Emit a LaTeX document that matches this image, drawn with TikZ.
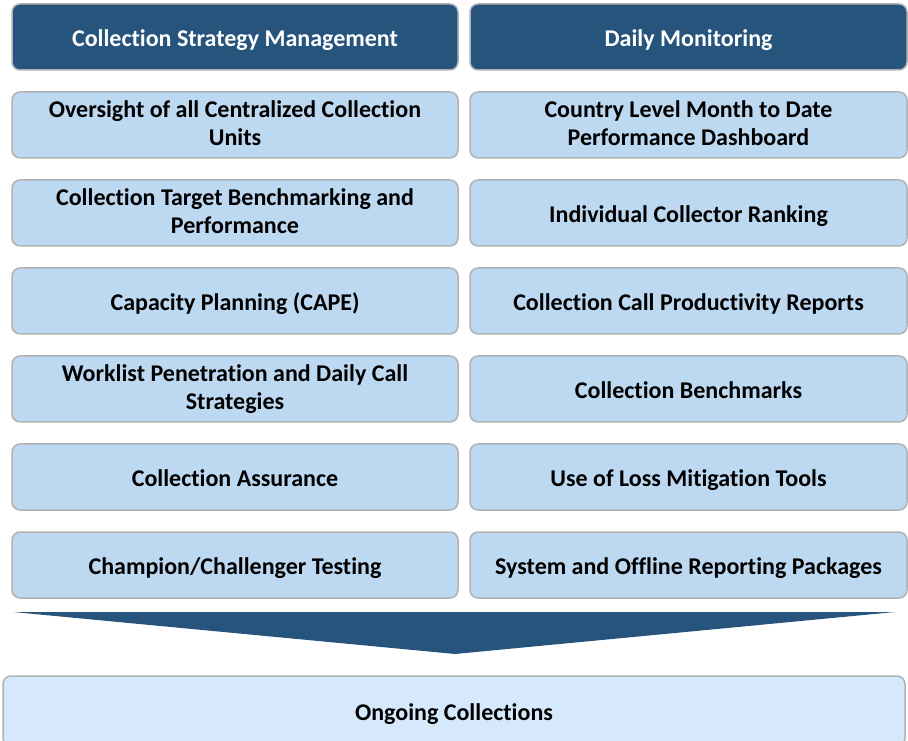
\documentclass[tikz,border=0pt]{standalone}
\usepackage{fontspec}
\setmainfont{Carlito}[Ligatures=NoCommon]
\usetikzlibrary{positioning}
\definecolor{hdblue}{RGB}{38,84,124}
\definecolor{itemblue}{RGB}{189,216,241}
\definecolor{baseblue}{RGB}{214,232,252}
\definecolor{edgegray}{RGB}{178,178,178}
\newcommand{\boxstrut}{\rule[-4.4pt]{0pt}{28pt}}

\begin{document}
\begin{tikzpicture}[x=1pt, y=1pt, node distance={88pt}, font=\fontsize{24}{28}\selectfont\bfseries,
    box/.style = {draw=edgegray, line width=1.5pt, rounded corners=8pt, align=center, inner sep=0pt,
        execute at begin node=\boxstrut, execute at end node=\boxstrut},
    head/.style = {box, fill=hdblue, text=white, minimum height=66pt},
    lft/.style = {box, fill=itemblue, minimum width=446pt, minimum height=66pt},
    rgt/.style = {box, fill=itemblue, minimum width=437pt, minimum height=66pt}]
            \useasboundingbox (0,0) rectangle (908,740);
            \clip (0,0) rectangle (908,740);

            \node[head, minimum width=446pt] (0l) at (235,703) {Collection Strategy Management};
            \node[head, minimum width=437pt] (0r) at (688.5,703) {Daily Monitoring};

            \node[lft] (1l) [below of=0l] {Oversight of all Centralized Collection\\Units};
            \node[lft] (2l) [below of=1l] {Collection Target Benchmarking and\\Performance};
            \node[lft] (3l) [below of=2l] {Capacity Planning (CAPE)};
            \node[lft] (4l) [below of=3l] {Worklist Penetration and Daily Call\\Strategies};
            \node[lft] (5l) [below of=4l] {Collection Assurance};
            \node[lft] (6l) [below of=5l] {Champion/Challenger Testing};

            \node[rgt] (1r) [below of=0r] {Country Level Month to Date\\Performance Dashboard};
            \node[rgt] (2r) [below of=1r] {Individual Collector Ranking};
            \node[rgt] (3r) [below of=2r] {Collection Call Productivity Reports};
            \node[rgt] (4r) [below of=3r] {Collection Benchmarks};
            \node[rgt] (5r) [below of=4r] {Use of Loss Mitigation Tools};
            \node[rgt] (6r) [below of=5r] {System and Offline Reporting Packages};

            % funnel into the base box
            \fill[hdblue] (13,128) -- (895,128) -- (455,86) -- cycle;

            \node[box, fill=baseblue, minimum width=902pt, minimum height=70pt] (base) at (454,29) {Ongoing Collections};
        \end{tikzpicture}
\end{document}
